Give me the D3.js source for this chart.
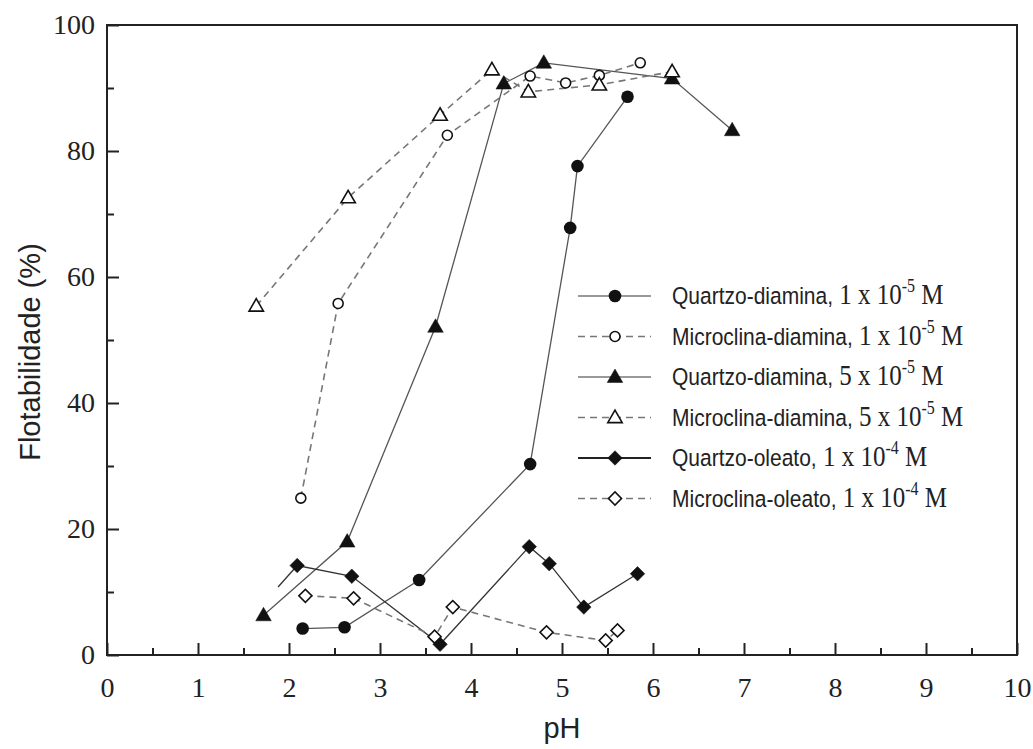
<!DOCTYPE html>
<html>
<head>
<meta charset="utf-8">
<script src="https://cdn.jsdelivr.net/npm/d3@7"></script>
<style>
  body { margin: 0; background: #fff; }
  svg { display: block; }
</style>
</head>
<body>
<div id="svg-container"></div>
<script>
const width = 1033;
const height = 749;
var margin = {top: 25, bottom: 94, left: 107, right: 16};

// ********* DATA (pH, flotabilidade %) *********
var quartzoDiamina1 = [[2.15,4.2],[2.61,4.4],[3.43,11.9],[4.65,30.3],[5.09,67.8],[5.17,77.6],[5.72,88.6]];
var microclinaDiamina1 = [[2.13,24.9],[2.54,55.8],[3.74,82.5],[4.65,91.9],[5.04,90.8],[5.41,92.0],[5.86,94.0]];
var quartzoDiamina5 = [[1.72,6.3],[2.64,18.0],[3.61,52.1],[4.36,90.7],[4.80,94.0],[6.21,91.5],[6.87,83.3]];
var microclinaDiamina5 = [[1.64,55.4],[2.65,72.6],[3.66,85.7],[4.23,92.9],[4.63,89.4],[5.41,90.5],[6.21,92.6]];
var oleatoLeadIn = [[1.88,10.8]]; // line start without a marker
var quartzoOleato = [[2.09,14.2],[2.69,12.5],[3.66,1.7],[4.64,17.2],[4.86,14.5],[5.24,7.6],[5.83,12.9]];
var microclinaOleato = [[2.18,9.4],[2.71,9.0],[3.60,2.9],[3.80,7.6],[4.83,3.6],[5.48,2.3],[5.61,3.9]];

var xTicks = [0,1,2,3,4,5,6,7,8,9,10];
var xMinor = [0.5,1.5,2.5,3.5,4.5,5.5,6.5,7.5,8.5,9.5];
var yTicks = [0,20,40,60,80,100];
var yMinor = [10,30,50,70,90];

var legendNames = ["Quartzo-diamina,", "Microclina-diamina,", "Quartzo-diamina,", "Microclina-diamina,", "Quartzo-oleato,", "Microclina-oleato,"];
var legendConc = [["1","-5"], ["1","-5"], ["5","-5"], ["5","-5"], ["1","-4"], ["1","-4"]];

// style of each series: marker shape, fill, dashed line
var series = [
  {pts: quartzoDiamina1, shape: 'circle', filled: true, dashed: false, r: 6.3},
  {pts: microclinaDiamina1, shape: 'circle', filled: false, dashed: true, r: 5},
  {pts: quartzoDiamina5, shape: 'triangle', filled: true, dashed: false},
  {pts: microclinaDiamina5, shape: 'triangle', filled: false, dashed: true},
  {pts: quartzoOleato, lead: oleatoLeadIn, shape: 'diamond', filled: true, dashed: false, dark: true},
  {pts: microclinaOleato, shape: 'diamond', filled: false, dashed: true}
];

// ********* Create SVG *********
var svg = d3.select("#svg-container").append('svg')
.attr('width', width)
.attr('height', height);

var x_scale = d3.scaleLinear()
.domain([0, 10])
.range([margin.left, width - margin.right]);

var y_scale = d3.scaleLinear()
.domain([0, 100])
.range([height - margin.bottom, margin.top]);

// ******** AXES *********
svg.append('g')
.attr('transform', `translate(0, ${y_scale(0)})`)
.call(d3.axisBottom(x_scale).tickValues(xTicks).tickSize(-12).tickPadding(22).tickFormat(d3.format('d')));
svg.append('g')
.attr('transform', `translate(0, ${y_scale(0)})`)
.call(d3.axisBottom(x_scale).tickValues(xMinor).tickSize(-7).tickFormat(''));

svg.append('g')
.attr('transform', `translate(${x_scale(0)}, 0)`)
.call(d3.axisLeft(y_scale).tickValues(yTicks).tickSize(-12).tickPadding(12).tickFormat(d3.format('d')));
svg.append('g')
.attr('transform', `translate(${x_scale(0)}, 0)`)
.call(d3.axisLeft(y_scale).tickValues(yMinor).tickSize(-7).tickFormat(''));

svg.selectAll('.domain').remove();
svg.selectAll('.tick line').attr('stroke', '#222').attr('stroke-width', 2);
svg.selectAll('.tick text')
.style('font-family', '"Liberation Serif", "Times New Roman", serif')
.style('font-size', '28px')
.attr('fill', '#222');

// frame
svg.append('rect')
.attr('x', x_scale(0))
.attr('y', y_scale(100))
.attr('width', x_scale(10) - x_scale(0))
.attr('height', y_scale(0) - y_scale(100))
.attr('fill', 'none')
.attr('stroke', '#222')
.attr('stroke-width', 2);

// axis titles
svg.append('text')
.attr('transform', `translate(40, ${(y_scale(0) + y_scale(100)) / 2 + 12}) rotate(-90)`)
.attr('text-anchor', 'middle')
.style('font-family', '"Liberation Sans", Arial, sans-serif')
.style('font-size', '29px')
.attr('fill', '#222')
.text('Flotabilidade (%)');

svg.append('text')
.attr('x', x_scale(5))
.attr('y', 738)
.attr('text-anchor', 'middle')
.style('font-family', '"Liberation Sans", Arial, sans-serif')
.style('font-size', '29px')
.attr('fill', '#222')
.text('pH');

// ******** MARKERS *********
function drawMarker(g, s, cx, cy) {
  var fill = s.filled ? '#111' : '#fff';
  if (s.shape === 'circle') {
    g.append('circle')
    .attr('cx', cx).attr('cy', cy).attr('r', s.r)
    .attr('fill', fill)
    .attr('stroke', '#111')
    .attr('stroke-width', s.filled ? 0 : 1.6);
  } else if (s.shape === 'triangle') {
    g.append('path')
    .attr('d', d3.symbol().type(d3.symbolTriangle).size(s.filled ? 105 : 90)())
    .attr('transform', `translate(${cx}, ${cy + 1})`)
    .attr('fill', fill)
    .attr('stroke', '#111')
    .attr('stroke-width', s.filled ? 0.5 : 1.6);
  } else {
    g.append('path')
    .attr('d', d3.symbol().type(d3.symbolSquare).size(s.filled ? 105 : 85)())
    .attr('transform', `translate(${cx}, ${cy}) rotate(45)`)
    .attr('fill', fill)
    .attr('stroke', '#111')
    .attr('stroke-width', s.filled ? 0.5 : 1.6);
  }
}

var line = d3.line()
.x(function(d){ return x_scale(d[0]); })
.y(function(d){ return y_scale(d[1]); });

var plot = svg.append('g').attr('class', 'series');

series.forEach(function(s){
  var pts = (s.lead || []).concat(s.pts);
  plot.append('path')
  .attr('d', line(pts))
  .attr('fill', 'none')
  .attr('stroke', s.dashed ? '#777' : (s.dark ? '#333' : '#555'))
  .attr('stroke-width', s.dashed ? 1.6 : 1.3)
  .attr('stroke-dasharray', s.dashed ? '7,5' : null);
});

series.forEach(function(s){
  var g = plot.append('g');
  s.pts.forEach(function(d){
    drawMarker(g, s, x_scale(d[0]), y_scale(d[1]));
  });
});

// ******** LEGEND *********
var legend = svg.append('g').attr('id', 'legend');
series.forEach(function(s, i){
  var ly = 296 + i * 40.5;
  var entry = legend.append('g');
  entry.append('line')
  .attr('x1', 578).attr('x2', 651)
  .attr('y1', ly).attr('y2', ly)
  .attr('stroke', s.dashed ? '#777' : (s.dark ? '#222' : '#777'))
  .attr('stroke-width', s.dark ? 2 : 1.5)
  .attr('stroke-dasharray', s.dashed ? '7,5' : null);
  drawMarker(entry, s, 615, ly);

  // the source text is drawn a little taller than wide
  var t = entry.append('text')
  .attr('transform', `translate(672, ${ly + 8}) scale(1, 1.18)`)
  .attr('fill', '#222');
  t.append('tspan')
  .style('font-family', '"Liberation Sans", Arial, sans-serif')
  .style('font-size', '21px')
  .text(legendNames[i]);
  t.append('tspan')
  .style('font-family', '"Liberation Serif", "Times New Roman", serif')
  .style('font-size', '25px')
  .text(' ' + legendConc[i][0] + ' x 10');
  t.append('tspan')
  .style('font-family', '"Liberation Serif", "Times New Roman", serif')
  .style('font-size', '16px')
  .attr('dy', -10)
  .text(legendConc[i][1]);
  t.append('tspan')
  .style('font-family', '"Liberation Serif", "Times New Roman", serif')
  .style('font-size', '25px')
  .attr('dy', 10)
  .text(' M');
});
</script>
</body>
</html>
